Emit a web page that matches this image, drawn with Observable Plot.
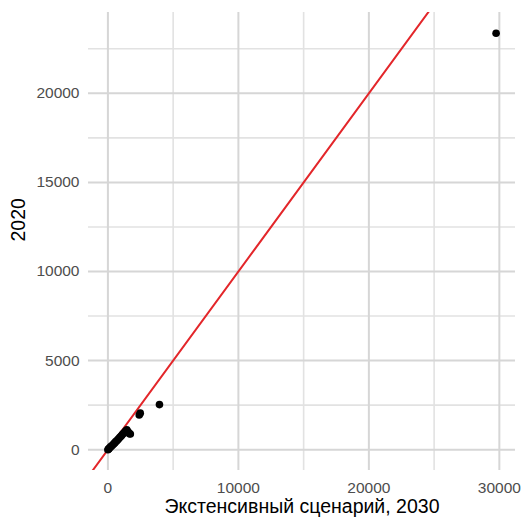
<!DOCTYPE html>
<html>
<head>
<meta charset="utf-8">
<script src="https://cdn.jsdelivr.net/npm/d3@7"></script>
<script src="https://cdn.jsdelivr.net/npm/@observablehq/plot@0.6"></script>
<style>
  html, body { margin: 0; padding: 0; background: #fff; }
</style>
</head>
<body>
<div id="chart"></div>
<script>
// Data (x: extensive scenario 2030, y: 2020)
const scenario2030 = [0, 40, 90, 150, 220, 300, 380, 450, 520, 600, 680, 750, 820, 900, 980, 1050, 1120, 1200, 1280, 1350, 1450, 1550, 1650, 1720, 2400, 2480, 3950, 29750];
const value2020    = [0, 30, 70, 120, 170, 220, 280, 330, 380, 450, 500, 560, 610, 680, 740, 800, 860, 920, 980, 1050, 1120, 1000, 900, 880, 1950, 2050, 2530, 23370];
const abline = { intercept: 0, slope: 1 };

const xMajor = [0, 10000, 20000, 30000];
const xMinor = [5000, 15000, 25000];
const yMajor = [0, 5000, 10000, 15000, 20000];
const yMinor = [2500, 7500, 12500, 17500, 22500];

const xTitle = "Экстенсивный сценарий, 2030";
const yTitle = "2020";

const points = scenario2030.map((x, i) => ({ x, y: value2020[i] }));

// ggplot-like 5% expansion
const xExt = d3.extent(scenario2030), yExt = d3.extent(value2020);
const xPad = (xExt[1] - xExt[0]) * 0.05, yPad = (yExt[1] - yExt[0]) * 0.05;
const xDomain = [xExt[0] - xPad, xExt[1] + xPad];
const yDomain = [yExt[0] - yPad, yExt[1] + yPad];
const lineData = xDomain.map(x => ({ x, y: abline.intercept + abline.slope * x }));

const font = "'Liberation Sans', Arial, Helvetica, sans-serif";

const chart = Plot.plot({
  width: 526,
  height: 517,
  marginLeft: 88,
  marginRight: 11,
  marginTop: 12,
  marginBottom: 47,
  style: { fontFamily: font, background: "#fff" },
  x: { domain: xDomain },
  y: { domain: yDomain },
  marks: [
    Plot.ruleX(xMinor, { stroke: "#e2e2e2", strokeWidth: 1.6 }),
    Plot.ruleY(yMinor, { stroke: "#e2e2e2", strokeWidth: 1.6 }),
    Plot.ruleX(xMajor, { stroke: "#d6d6d6", strokeWidth: 2 }),
    Plot.ruleY(yMajor, { stroke: "#d6d6d6", strokeWidth: 2 }),
    Plot.axisX(xMajor, { tickSize: 0, tickPadding: 11, fontSize: 15.5, color: "#4d4d4d", label: null, tickFormat: d => String(d) }),
    Plot.axisY(yMajor, { tickSize: 0, tickPadding: 9, fontSize: 15.5, color: "#4d4d4d", label: null, tickFormat: d => String(d) }),
    Plot.line(lineData, { x: "x", y: "y", stroke: "#e3262a", strokeWidth: 2, clip: true }),
    Plot.dot(points, { x: "x", y: "y", r: 3.8, fill: "#000", stroke: "none" }),
    Plot.text([xTitle], { frameAnchor: "bottom", dy: 42, lineAnchor: "bottom", fontSize: 19.5, fill: "#000", text: d => d }),
    Plot.text([yTitle], { frameAnchor: "left", dx: -70, rotate: -90, fontSize: 19.5, fill: "#000", text: d => d })
  ]
});
document.getElementById("chart").appendChild(chart);
</script>
</body>
</html>
